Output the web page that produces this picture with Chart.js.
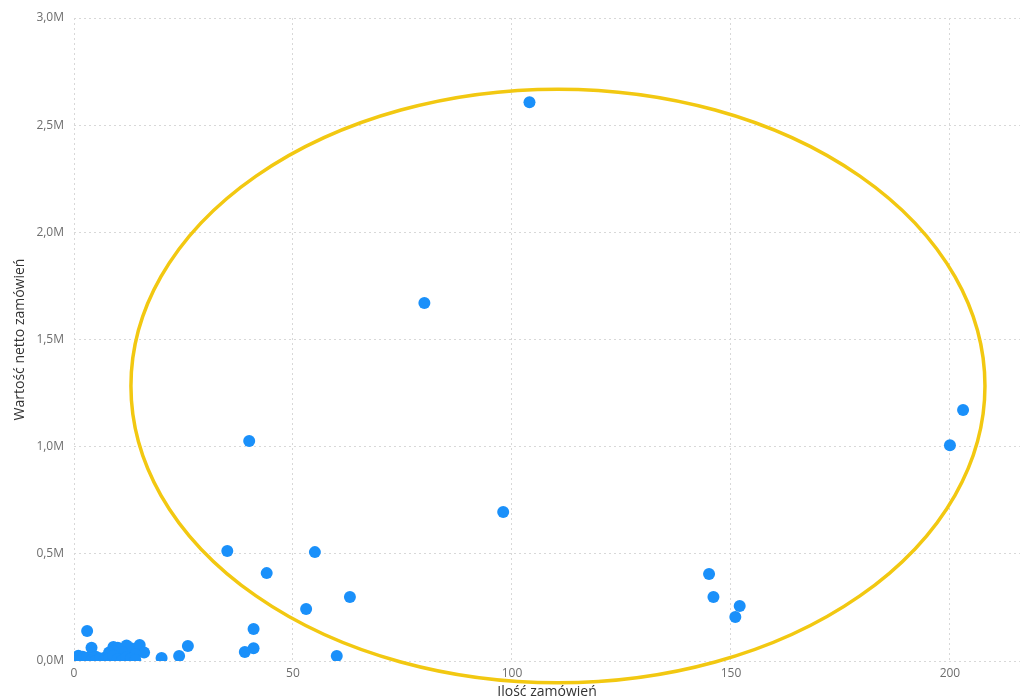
<!DOCTYPE html>
<html>
<head>
<meta charset="utf-8">
<title>Ilość zamówień vs wartość</title>
<script src="https://cdn.jsdelivr.net/npm/chart.js@4"></script>
<style>
  html, body { margin: 0; padding: 0; background: #fff; }
  #wrap { width: 1026px; height: 700px; position: relative; }
</style>
</head>
<body>
<div id="wrap"><canvas id="scatter"></canvas></div>
<script>
// liczba zamówień na klienta
const orders = [
  104, 80, 40, 200, 203, 98, 35, 55, 44, 63, 53, 41, 41, 39, 60, 26, 24, 20,
  145, 146, 152, 151,
  3, 4, 9, 10, 12, 13, 15, 16, 14, 11, 9, 8, 7,
  0, 1, 1, 2, 2, 3, 4, 5, 5, 6, 6, 7, 8, 9, 10, 11, 12, 13, 14
];
// wartość netto zamówień (PLN)
const netValue = [
  2607000, 1670000, 1026000, 1007000, 1171000, 695000, 513000, 508000, 410000, 299000, 243000, 149000, 60000, 42000, 23000, 70000, 23000, 14000,
  406000, 299000, 257000, 205000,
  140000, 62000, 65000, 62000, 72000, 60000, 75000, 40000, 30000, 42000, 47000, 40000, 15000,
  10000, 25000, 5000, 20000, 8000, 15000, 3000, 20000, 0, 5000, 12000, 2000, 10000, 25000, 8000, 2000, 18000, 10000, 5000
];
const yTicks = [0, 500000, 1000000, 1500000, 2000000, 2500000, 3000000];
const xTicks = [0, 50, 100, 150, 200];

// obwódka wokół dużych klientów (w jednostkach osi)
const ring = { cx: 110.5, cy: 1283000, rx: 97.5, ry: 1385000 };

const points = orders.map((x, i) => ({ x: x, y: netValue[i] }));

const ringPlugin = {
  id: 'ring',
  afterDatasetsDraw(chart) {
    const xs = chart.scales.x, ys = chart.scales.y;
    const cx = xs.getPixelForValue(ring.cx);
    const cy = ys.getPixelForValue(ring.cy);
    const rx = Math.abs(xs.getPixelForValue(ring.cx + ring.rx) - cx);
    const ry = Math.abs(ys.getPixelForValue(ring.cy + ring.ry) - cy);
    const ctx = chart.ctx;
    ctx.save();
    ctx.beginPath();
    ctx.ellipse(cx, cy, rx, ry, 0, 0, Math.PI * 2);
    ctx.strokeStyle = '#F2C811';
    ctx.lineWidth = 3.5;
    ctx.stroke();
    ctx.restore();
  }
};

const fontFamily = "'Segoe UI', 'Open Sans', sans-serif";

new Chart(document.querySelector('#scatter'), {
  type: 'scatter',
  data: {
    datasets: [{
      label: 'Klienci',
      data: points,
      backgroundColor: '#1A90FA',
      borderWidth: 0,
      pointRadius: 6,
      pointHoverRadius: 6
    }]
  },
  options: {
    responsive: true,
    maintainAspectRatio: false,
    animation: false,
    layout: { padding: { top: 18, right: 4, left: 0, bottom: 0 } },
    plugins: {
      legend: { display: false },
      tooltip: { enabled: false }
    },
    scales: {
      x: {
        type: 'linear',
        min: 0,
        max: 216,
        afterBuildTicks: (s) => { s.ticks = xTicks.map(v => ({ value: v })); },
        afterFit: (s) => { s.height = 39; },
        grid: { color: '#d8d8d8', drawTicks: false },
        border: { display: false, dash: [2, 3] },
        ticks: { color: '#6e6e6e', padding: 5, font: { family: fontFamily, size: 12 } },
        title: {
          display: true,
          text: 'Ilość zamówień',
          color: '#333',
          padding: { top: 0, bottom: 0 },
          font: { family: fontFamily, size: 14 }
        }
      },
      y: {
        min: 0,
        max: 3000000,
        afterBuildTicks: (s) => { s.ticks = yTicks.map(v => ({ value: v })); },
        afterFit: (s) => { s.width = 74; },
        grid: { color: '#d8d8d8', drawTicks: false },
        border: { display: false, dash: [2, 3] },
        ticks: {
          color: '#6e6e6e',
          padding: 10,
          font: { family: fontFamily, size: 12 },
          callback: (v) => (v / 1000000).toFixed(1).replace('.', ',') + 'M'
        },
        title: {
          display: true,
          text: 'Wartość netto zamówień',
          color: '#333',
          padding: { top: 12, bottom: 0 },
          font: { family: fontFamily, size: 14 }
        }
      }
    }
  },
  plugins: [ringPlugin]
});
</script>
</body>
</html>
